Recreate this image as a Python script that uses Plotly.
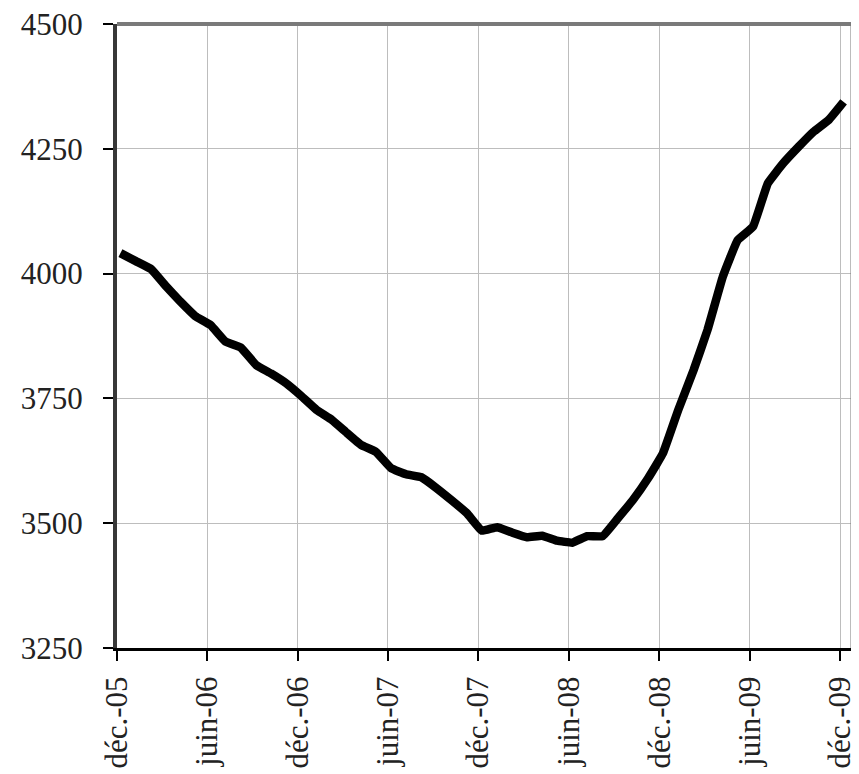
import pandas as pd
import plotly.graph_objects as go

# Monthly series, déc.-05 .. déc.-09 (49 points)
start_date = "2005-12-08"
values = [4041, 4025, 4009, 3977, 3944, 3915, 3897, 3864, 3852, 3817,
          3800, 3780, 3755, 3727, 3707, 3683, 3657, 3643, 3610, 3598,
          3592, 3570, 3546, 3520, 3485, 3492, 3481, 3472, 3475, 3465,
          3461, 3474, 3474, 3510, 3546, 3590, 3640, 3727, 3807, 3887,
          3994, 4067, 4094, 4181, 4221, 4254, 4284, 4308, 4344]

tick_dates = ["2005-12-01", "2006-06-01", "2006-12-01", "2007-06-01", "2007-12-01",
              "2008-06-01", "2008-12-01", "2009-06-01", "2009-12-01"]
tick_labels = ["déc.-05", "juin-06", "déc.-06", "juin-07", "déc.-07",
               "juin-08", "déc.-08", "juin-09", "déc.-09"]
y_ticks = [3250, 3500, 3750, 4000, 4250, 4500]

dates = pd.date_range(start_date, periods=len(values), freq=pd.DateOffset(months=1))

fig = go.Figure()
fig.add_trace(go.Scatter(
    x=dates, y=values, mode="lines",
    line=dict(color="black", width=8.5, shape="spline", smoothing=0.3),
    showlegend=False, hoverinfo="skip",
))

font = dict(family="Liberation Serif, Times New Roman, serif", size=31, color="#222222")

fig.update_layout(
    template="none",
    width=851, height=766,
    margin=dict(l=109, r=6, t=16, b=126, autoexpand=False),
    paper_bgcolor="white", plot_bgcolor="white",
    font=font,
    xaxis=dict(
        type="date",
        range=["2005-12-01", "2009-12-27"],
        tickmode="array", tickvals=tick_dates, ticktext=tick_labels,
        tickangle=-90, tickfont=font,
        ticks="outside", ticklen=10, tickwidth=2, tickcolor="black",
        showgrid=True, gridcolor="#bdbdbd", gridwidth=1.2,
        showline=True, linecolor="black", linewidth=3,
        zeroline=False, automargin=False, ticklabelstandoff=3,
        ticklabeloverflow="allow",
    ),
    yaxis=dict(
        range=[3250, 4500],
        tickmode="array", tickvals=y_ticks,
        tickfont=font,
        ticks="outside", ticklen=10, tickwidth=2, tickcolor="black",
        showgrid=True, gridcolor="#bdbdbd", gridwidth=1.2,
        showline=True, linecolor="#383838", linewidth=4,
        zeroline=False, automargin=False, ticklabelstandoff=14,
        ticklabeloverflow="allow",
    ),
    shapes=[
        dict(type="line", xref="paper", yref="paper", x0=0, x1=1, y0=1, y1=1,
             line=dict(color="#7a7a7a", width=4), layer="above"),
        dict(type="line", xref="paper", yref="paper", x0=1, x1=1, y0=0, y1=1,
             line=dict(color="#7a7a7a", width=5), layer="above"),
    ],
)

fig.write_html("out.html")
